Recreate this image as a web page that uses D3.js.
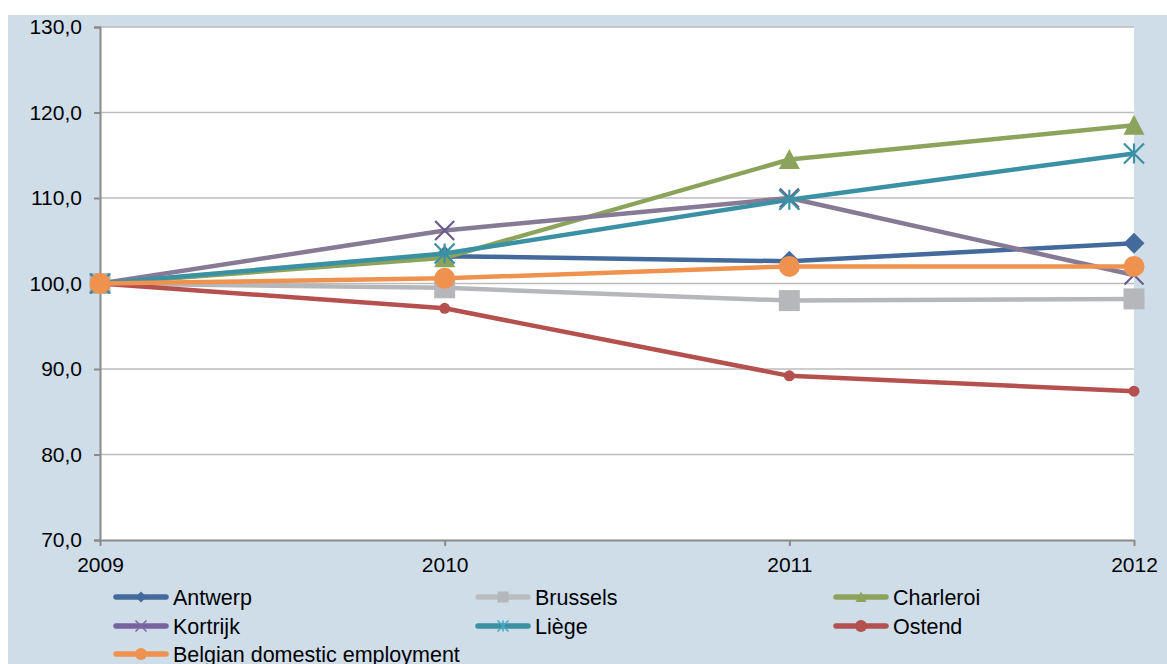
<!DOCTYPE html>
<html>
<head>
<meta charset="utf-8">
<script src="https://cdn.jsdelivr.net/npm/d3@7/dist/d3.min.js"></script>
<style>
  body { margin: 0; background: #fff; }
  svg text { font-family: "Liberation Sans", Arial, sans-serif; fill: #000; }
</style>
</head>
<body>
<svg id="chart"></svg>
<script>
// data
const years = ["2009", "2010", "2011", "2012"];
const yTicks = [70, 80, 90, 100, 110, 120, 130];

const antwerp  = [100, 103.2, 102.6, 104.7];
const brussels = [100, 99.5, 98.0, 98.2];
const charleroi = [100, 103.0, 114.5, 118.5];
const kortrijk = [100, 106.2, 110.0, 101.0];
const liege    = [100, 103.5, 109.8, 115.2];
const ostend   = [100, 97.1, 89.2, 87.4];
const belgian  = [100, 100.6, 102.0, 102.0];

const seriesNames = ["Antwerp", "Brussels", "Charleroi", "Kortrijk", "Liège", "Ostend", "Belgian domestic employment"];
const seriesValues = [antwerp, brussels, charleroi, kortrijk, liege, ostend, belgian];
const lineColors   = ["#44699b", "#b6b7ba", "#8ca35c", "#877a94", "#3b91a4", "#b4514f", "#f0924f"];
const markColors   = ["#44699b", "#b6b7ba", "#8ca35c", "#6c5a8e", "#3b91a4", "#b4514f", "#f0924f"];
const legendLine   = ["#44699b", "#bcbdc0", "#8ca35c", "#7863a0", "#3b91a4", "#b4514f", "#f0924f"];
const shapes = ["diamond", "square", "triangle", "x", "star", "dot", "circle"];

const width = 1167;
const height = 664;
const plot = { left: 100, right: 1134, top: 27, bottom: 540 };

const svg = d3.select("#chart").attr("width", width).attr("height", height);

// chart background
svg.append("rect").attr("x", 8).attr("y", 15).attr("width", width - 8).attr("height", height - 15)
  .attr("fill", "#cfdde9");
svg.append("rect").attr("x", plot.left).attr("y", plot.top)
  .attr("width", plot.right - plot.left).attr("height", plot.bottom - plot.top)
  .attr("fill", "#fff");

const x = d3.scalePoint().domain(years).range([plot.left, plot.right]);
const y = d3.scaleLinear().domain([70, 130]).range([plot.bottom, plot.top]);

// gridlines
svg.append("g").selectAll("line").data(yTicks.filter(d => d > 70)).enter().append("line")
  .attr("x1", plot.left).attr("x2", plot.right)
  .attr("y1", d => y(d)).attr("y2", d => y(d))
  .attr("stroke", "#bdbdbd").attr("stroke-width", 1.6);

// y axis
const yAxis = svg.append("g").attr("transform", "translate(" + plot.left + ",0)")
  .call(d3.axisLeft(y).tickValues(yTicks).tickSize(6).tickPadding(12)
    .tickFormat(d => d3.format(".1f")(d).replace(".", ",")));
yAxis.select(".domain").attr("stroke", "#8a8a8a").attr("stroke-width", 2);
yAxis.selectAll(".tick line").attr("stroke", "#8a8a8a").attr("stroke-width", 2);
yAxis.selectAll("text").attr("font-size", 21).attr("font-family", "Liberation Sans, Arial, sans-serif");

// x axis
const xAxis = svg.append("g").attr("transform", "translate(0," + plot.bottom + ")")
  .call(d3.axisBottom(x).tickSize(6).tickSizeOuter(0).tickPadding(11));
xAxis.select(".domain").attr("stroke", "#8a8a8a").attr("stroke-width", 2);
xAxis.selectAll(".tick line").attr("stroke", "#8a8a8a").attr("stroke-width", 2);
xAxis.selectAll("text").attr("font-size", 21).attr("font-family", "Liberation Sans, Arial, sans-serif");

// marker path, s = half width
function markerPath(shape, s) {
  switch (shape) {
    case "diamond": return `M0,${-s}L${s},0L0,${s}L${-s},0Z`;
    case "square": return `M${-s},${-s}H${s}V${s}H${-s}Z`;
    case "triangle": return `M0,${-s}L${s},${s * 0.9}L${-s},${s * 0.9}Z`;
    case "x": return `M${-s},${-s}L${s},${s}M${s},${-s}L${-s},${s}`;
    case "star": return `M${-s},${-s}L${s},${s}M${s},${-s}L${-s},${s}M0,${-s}V${s}`;
    case "dot":
    case "circle": return d3.symbol(d3.symbolCircle, Math.PI * s * s)();
  }
}
const markerSize = { diamond: 10.5, square: 10.5, triangle: 10.5, x: 9.5, star: 10, dot: 5.5, circle: 10.5 };

const line = d3.line().x((d, i) => x(years[i])).y(d => y(d));

seriesValues.forEach((vals, k) => {
  const g = svg.append("g");
  g.append("path").datum(vals).attr("d", line)
    .attr("fill", "none").attr("stroke", lineColors[k]).attr("stroke-width", 4.5)
    .attr("stroke-linejoin", "round");
  const open = shapes[k] === "x" || shapes[k] === "star";
  g.selectAll("path.m").data(vals).enter().append("path").attr("class", "m")
    .attr("transform", (d, i) => `translate(${x(years[i])},${y(d)})`)
    .attr("d", markerPath(shapes[k], markerSize[shapes[k]]))
    .attr("fill", open ? "none" : markColors[k])
    .attr("stroke", open ? markColors[k] : "none")
    .attr("stroke-width", 2.2);
});

// legend
const legCols = [113, 475, 833];
const legRows = [597, 626, 654];
seriesNames.forEach((name, k) => {
  const lx = legCols[k % 3];
  const ly = legRows[Math.floor(k / 3)];
  const g = svg.append("g").attr("transform", `translate(${lx},${ly})`);
  g.append("line").attr("x1", 3).attr("x2", 53).attr("y1", 0).attr("y2", 0)
    .attr("stroke", legendLine[k]).attr("stroke-width", 5.5).attr("stroke-linecap", "round");
  const open = shapes[k] === "x" || shapes[k] === "star";
  g.append("path").attr("transform", "translate(28,0)")
    .attr("d", markerPath(shapes[k], shapes[k] === "circle" || shapes[k] === "dot" ? 6 : 5.5))
    .attr("fill", open ? "none" : markColors[k])
    .attr("stroke", open ? d3.color(markColors[k]).brighter(0.4) : "none")
    .attr("stroke-width", 1.5);
  g.append("text").attr("x", 60).attr("y", 0).attr("dy", "0.35em")
    .attr("font-size", 21.5).text(name);
});
</script>
</body>
</html>
